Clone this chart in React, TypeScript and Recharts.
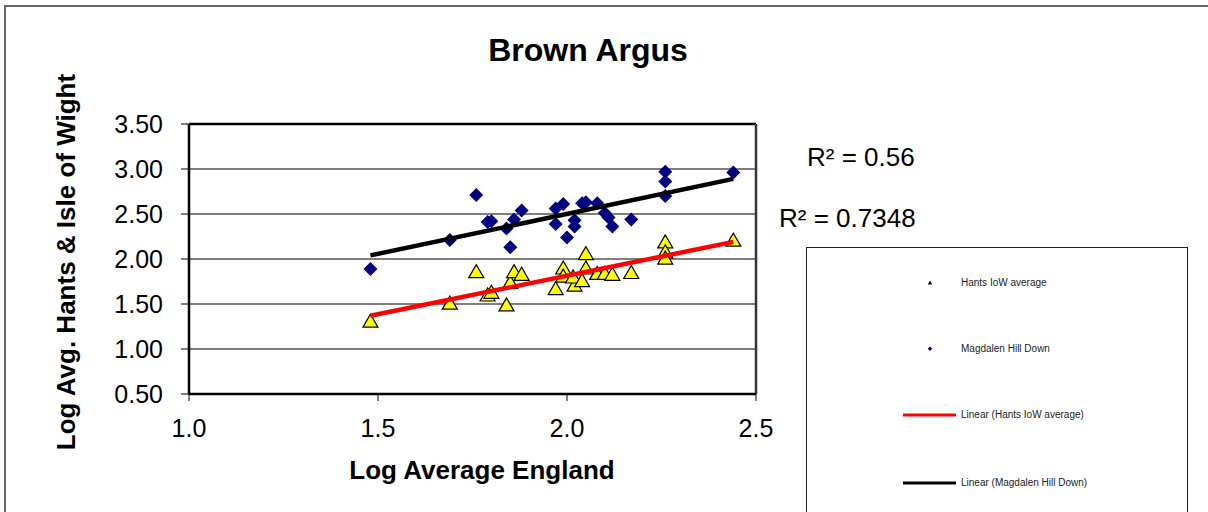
import React from 'react';
import {
  ScatterChart,
  Scatter,
  XAxis,
  YAxis,
  ReferenceLine,
} from 'recharts';

// Hants IoW average (triangles)
const hantsX = [
  1.48, 1.69, 1.76, 1.79, 1.8, 1.84, 1.85, 1.86, 1.88, 1.97, 1.99, 1.99, 2.02,
  2.016, 2.04, 2.05, 2.05, 2.08, 2.1, 2.12, 2.17, 2.26, 2.26, 2.26, 2.44,
];
const hantsY = [
  1.31, 1.51, 1.86, 1.6, 1.63, 1.49, 1.74, 1.86, 1.83, 1.67, 1.9, 1.81, 1.71,
  1.8, 1.76, 2.06, 1.9, 1.84, 1.84, 1.83, 1.85, 2.19, 2.08, 2.01, 2.21,
];

// Magdalen Hill Down (diamonds)
const magdalenX = [
  1.48, 1.69, 1.76, 1.79, 1.8, 1.84, 1.85, 1.86, 1.88, 1.97, 1.97, 1.99, 2.0,
  2.02, 2.02, 2.04, 2.05, 2.08, 2.1, 2.11, 2.12, 2.17, 2.26, 2.26, 2.26, 2.44,
];
const magdalenY = [
  1.89, 2.21, 2.71, 2.41, 2.42, 2.34, 2.13, 2.44, 2.54, 2.56, 2.39, 2.61, 2.24,
  2.43, 2.36, 2.62, 2.63, 2.62, 2.51, 2.46, 2.36, 2.44, 2.97, 2.86, 2.7, 2.96,
];

// linear trend end points
const trendX = [1.48, 2.44];
const hantsTrendY = [1.37, 2.19];
const magdalenTrendY = [2.04, 2.89];

const xTicks = [1.0, 1.5, 2.0, 2.5];
const yTicks = [0.5, 1.0, 1.5, 2.0, 2.5, 3.0, 3.5];

const rSquared = ['R² = 0.56', 'R² = 0.7348'];

const FONT = 'Arial, "Liberation Sans", sans-serif';

const hantsData = hantsX.map((x, i) => ({ x, y: hantsY[i] }));
const magdalenData = magdalenX.map((x, i) => ({ x, y: magdalenY[i] }));
const hantsTrend = trendX.map((x, i) => ({ x, y: hantsTrendY[i] }));
const magdalenTrend = trendX.map((x, i) => ({ x, y: magdalenTrendY[i] }));

const Triangle = (props: any) => {
  const { cx, cy } = props;
  return (
    <polygon
      points={`${cx},${cy - 7} ${cx - 7.5},${cy + 6} ${cx + 7.5},${cy + 6}`}
      fill="#FFFF00"
      stroke="#000"
      strokeWidth={1.2}
    />
  );
};

const Diamond = (props: any) => {
  const { cx, cy } = props;
  return (
    <polygon
      points={`${cx},${cy - 7} ${cx + 7},${cy} ${cx},${cy + 7} ${cx - 7},${cy}`}
      fill="#000080"
    />
  );
};

const NoShape = () => <g />;

const tickStyle = { fill: '#000', fontSize: 25, fontFamily: FONT };

const legendItems = [
  { label: 'Hants IoW average', kind: 'triangle', top: 283 },
  { label: 'Magdalen Hill Down', kind: 'diamond', top: 349 },
  { label: 'Linear (Hants IoW average)', kind: 'red', top: 415 },
  { label: 'Linear (Magdalen Hill Down)', kind: 'black', top: 483 },
];

export default function App() {
  return (
    <div
      style={{
        position: 'absolute',
        left: 0,
        top: 0,
        width: 1208,
        height: 512,
        background: '#fff',
        overflow: 'hidden',
        fontFamily: FONT,
      }}
    >
      {/* outer chart frame */}
      <div
        style={{
          position: 'absolute',
          left: 4,
          top: 5,
          width: 1204,
          height: 507,
          borderTop: '2px solid #666',
          borderLeft: '2px solid #666',
          boxSizing: 'border-box',
        }}
      />

      <div style={{ position: 'absolute', left: 0, top: 0 }}>
        <ScatterChart
          width={1208}
          height={512}
          margin={{ top: 124, right: 452, left: 129, bottom: 78 }}
        >
          <XAxis
            type="number"
            dataKey="x"
            domain={[1, 2.5]}
            ticks={xTicks}
            interval={0}
            height={40}
            tickFormatter={(v: number) => v.toFixed(1)}
            tick={tickStyle}
            tickSize={7}
            tickMargin={18}
            tickLine={{ stroke: '#000' }}
            axisLine={{ stroke: '#000', strokeWidth: 2.5 }}
          />
          <YAxis
            type="number"
            dataKey="y"
            domain={[0.5, 3.5]}
            ticks={yTicks}
            interval={0}
            width={60}
            tickFormatter={(v: number) => v.toFixed(2)}
            tick={tickStyle}
            tickSize={8}
            tickMargin={18}
            tickLine={{ stroke: '#000' }}
            axisLine={{ stroke: '#000', strokeWidth: 2.5 }}
          />
          {/* horizontal gridlines */}
          {yTicks.slice(1, -1).map((t) => (
            <ReferenceLine key={t} y={t} stroke="#000" strokeWidth={1.2} />
          ))}
          <ReferenceLine y={3.5} stroke="#000" strokeWidth={2.5} />
          <ReferenceLine x={2.5} stroke="#333" strokeWidth={2.5} />
          <Scatter
            name="Hants IoW average"
            data={hantsData}
            shape={Triangle}
            isAnimationActive={false}
          />
          <Scatter
            name="Magdalen Hill Down"
            data={magdalenData}
            shape={Diamond}
            isAnimationActive={false}
          />
          <Scatter
            name="Linear (Hants IoW average)"
            data={hantsTrend}
            line={{ stroke: '#FF0000', strokeWidth: 4.5 }}
            lineType="joint"
            shape={NoShape}
            isAnimationActive={false}
          />
          <Scatter
            name="Linear (Magdalen Hill Down)"
            data={magdalenTrend}
            line={{ stroke: '#000', strokeWidth: 4.5 }}
            lineType="joint"
            shape={NoShape}
            isAnimationActive={false}
          />
        </ScatterChart>
      </div>

      {/* title */}
      <div
        style={{
          position: 'absolute',
          left: 388,
          top: 32,
          width: 400,
          lineHeight: '36px',
          fontSize: 32,
          fontWeight: 'bold',
          textAlign: 'center',
        }}
      >
        Brown Argus
      </div>

      {/* axis titles */}
      <div
        style={{
          position: 'absolute',
          left: 282,
          top: 455,
          width: 400,
          lineHeight: '30px',
          fontSize: 26,
          fontWeight: 'bold',
          textAlign: 'center',
        }}
      >
        Log Average England
      </div>
      <div
        style={{
          position: 'absolute',
          left: -134,
          top: 247,
          width: 400,
          height: 30,
          lineHeight: '30px',
          fontSize: 26,
          fontWeight: 'bold',
          textAlign: 'center',
          transform: 'rotate(-90deg)',
          whiteSpace: 'nowrap',
        }}
      >
        Log Avg. Hants &amp; Isle of Wight
      </div>

      {/* R squared labels */}
      <div style={{ position: 'absolute', left: 807, top: 142, fontSize: 26, lineHeight: '30px', whiteSpace: 'nowrap' }}>
        {rSquared[0]}
      </div>
      <div style={{ position: 'absolute', left: 779, top: 203, fontSize: 26, lineHeight: '30px', whiteSpace: 'nowrap' }}>
        {rSquared[1]}
      </div>

      {/* legend */}
      <div
        style={{
          position: 'absolute',
          left: 806,
          top: 247,
          width: 382,
          height: 280,
          borderTop: '1px solid #222',
          borderLeft: '1px solid #222',
          borderRight: '1px solid #222',
          boxSizing: 'border-box',
        }}
      />
      {legendItems.map((item) => (
        <div key={item.label}>
          <svg
            style={{ position: 'absolute', left: 900, top: item.top - 5 }}
            width={60}
            height={10}
          >
            {item.kind === 'triangle' && (
              <polygon points="30,2.5 27.8,6.5 32.2,6.5" fill="#000" />
            )}
            {item.kind === 'diamond' && (
              <polygon points="30,2.5 32.2,4.8 30,7 27.8,4.8" fill="#000080" />
            )}
            {item.kind === 'red' && (
              <line x1={3} y1={5} x2={56} y2={5} stroke="#FF0000" strokeWidth={3} />
            )}
            {item.kind === 'black' && (
              <line x1={3} y1={5} x2={56} y2={5} stroke="#000" strokeWidth={3} />
            )}
          </svg>
          <div
            style={{
              position: 'absolute',
              left: 961,
              top: item.top - 7,
              fontSize: 10,
              lineHeight: '14px',
              color: '#222',
              whiteSpace: 'nowrap',
            }}
          >
            {item.label}
          </div>
        </div>
      ))}
    </div>
  );
}
